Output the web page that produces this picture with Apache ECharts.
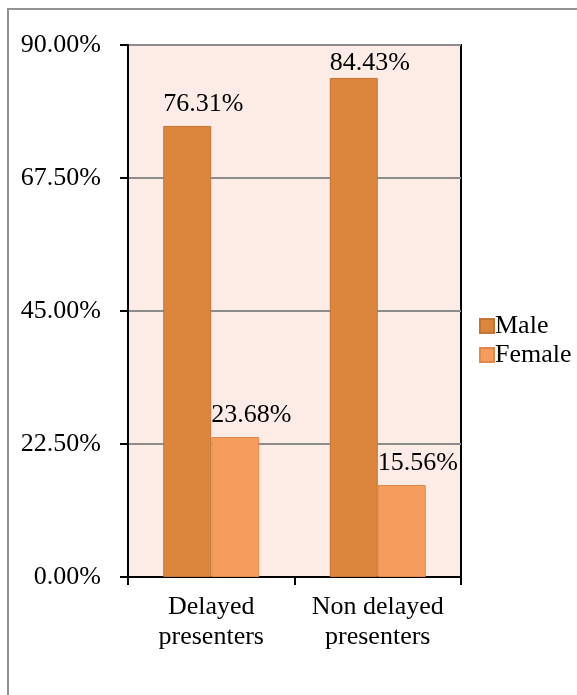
<!DOCTYPE html>
<html>
<head>
<meta charset="utf-8">
<script src="https://cdn.jsdelivr.net/npm/echarts@6/dist/echarts.min.js"></script>
<style>
  html, body { margin: 0; padding: 0; background: #fff; }
  #chart { width: 577px; height: 695px; }
</style>
</head>
<body>
<div id="chart"></div>
<script>
const categories = ["Delayed\npresenters", "Non delayed\npresenters"];
const maleValues = [76.31, 84.43];
const femaleValues = [23.68, 15.56];
const yTicks = { min: 0, max: 90, step: 22.5 };

const font = "Liberation Serif";
const chart = echarts.init(document.getElementById("chart"));

const labelStyle = {
  show: true,
  position: "top",
  distance: 9,
  offset: [16, 0],
  fontFamily: font,
  fontSize: 26,
  color: "#000",
  formatter: (p) => p.value.toFixed(2) + "%",
};

const option = {
  animation: false,
  graphic: [
    {
      type: "rect",
      z: -10,
      shape: { x: 8, y: 9, width: 900, height: 900 },
      style: { fill: "none", stroke: "#939393", lineWidth: 2 },
    },
  ],
  grid: {
    left: 128,
    right: 116,
    top: 45,
    bottom: 118,
    show: true,
    backgroundColor: "#fcece5",
    borderColor: "#000",
    borderWidth: 2,
  },
  legend: {
    orient: "vertical",
    left: 474,
    top: 308,
    itemWidth: 14,
    itemHeight: 14,
    itemGap: 3,
    icon: "rect",
    textStyle: { fontFamily: font, fontSize: 26, color: "#000", padding: [0, 0, 0, -4] },
    data: ["Male", "Female"],
  },
  xAxis: {
    type: "category",
    data: categories,
    axisLine: { lineStyle: { color: "#000", width: 2 } },
    axisTick: { show: true, length: 8, lineStyle: { color: "#000", width: 2 } },
    axisLabel: {
      interval: 0,
      margin: 15,
      fontFamily: font,
      fontSize: 26,
      lineHeight: 30,
      color: "#000",
    },
  },
  yAxis: {
    type: "value",
    min: yTicks.min,
    max: yTicks.max,
    interval: yTicks.step,
    axisLine: { show: true, lineStyle: { color: "#000", width: 2 } },
    axisTick: { show: true, length: 8, lineStyle: { color: "#000", width: 2 } },
    axisLabel: {
      margin: 27,
      fontFamily: font,
      fontSize: 26,
      color: "#000",
      formatter: (v) => v.toFixed(2) + "%",
    },
    splitLine: { lineStyle: { color: "#8c8c8c", width: 2 } },
  },
  series: [
    {
      name: "Male",
      type: "bar",
      barWidth: 48,
      barGap: "0%",
      itemStyle: { color: "#db853d", borderColor: "#c47434", borderWidth: 1 },
      label: labelStyle,
      data: maleValues.map((v, i) => ({
        value: v,
        label: { distance: i === 1 ? 2 : 9 },
      })),
    },
    {
      name: "Female",
      type: "bar",
      barWidth: 48,
      itemStyle: { color: "#f69c5d", borderColor: "#e0894b", borderWidth: 1 },
      label: labelStyle,
      data: femaleValues,
    },
  ],
};

chart.setOption(option);
</script>
</body>
</html>
